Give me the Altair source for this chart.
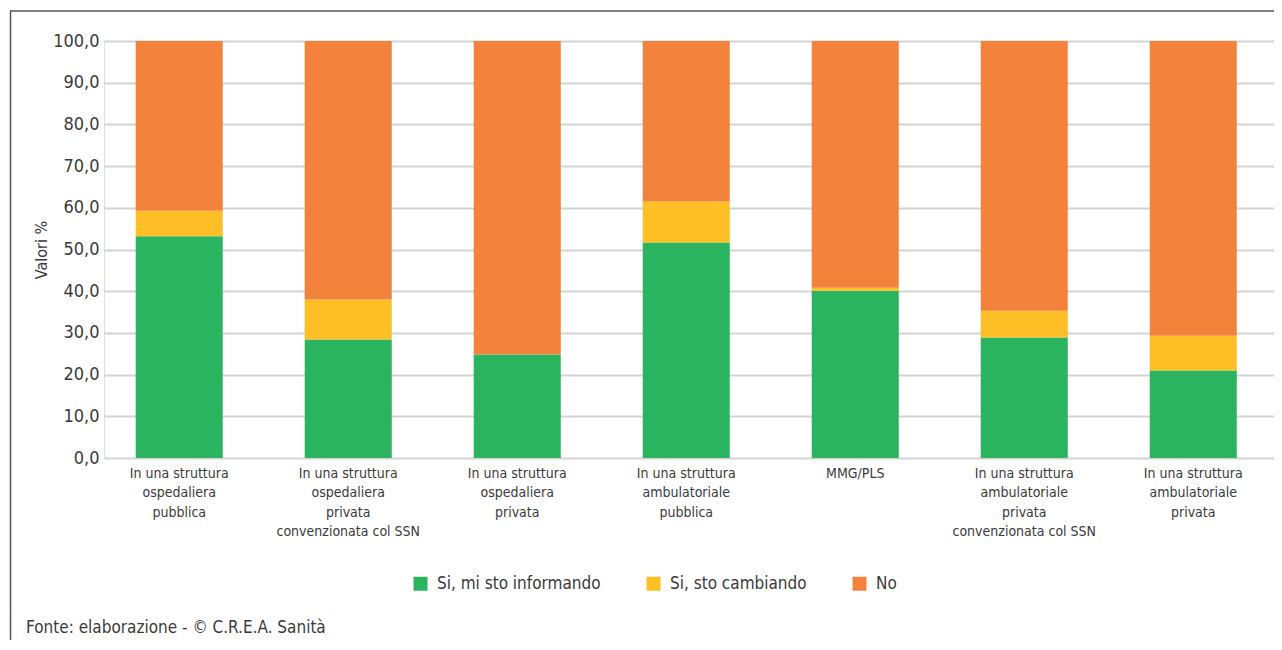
import altair as alt
import pandas as pd

CATEGORIES = [
    "In una struttura ospedaliera pubblica",
    "In una struttura ospedaliera privata convenzionata col SSN",
    "In una struttura ospedaliera privata",
    "In una struttura ambulatoriale pubblica",
    "MMG/PLS",
    "In una struttura ambulatoriale privata convenzionata col SSN",
    "In una struttura ambulatoriale privata",
]
LABEL_LINES = [
    ["In una struttura", "ospedaliera", "pubblica"],
    ["In una struttura", "ospedaliera", "privata", "convenzionata col SSN"],
    ["In una struttura", "ospedaliera", "privata"],
    ["In una struttura", "ambulatoriale", "pubblica"],
    ["MMG/PLS"],
    ["In una struttura", "ambulatoriale", "privata", "convenzionata col SSN"],
    ["In una struttura", "ambulatoriale", "privata"],
]
SERIES = ["Si, mi sto informando", "Si, sto cambiando", "No"]
COLORS = ["#2bb45f", "#fdbe26", "#f2823c"]
INFORMANDO = [53.2, 28.4, 24.8, 51.7, 40.1, 28.9, 21.0]
CAMBIANDO = [6.1, 9.6, 0.0, 9.8, 0.7, 6.4, 8.3]
NO = [40.7, 62.0, 75.2, 38.5, 59.2, 64.7, 70.7]
Y_TITLE = "Valori %"
FOOTER = "Fonte: elaborazione - © C.R.E.A. Sanità"

FONT = "Liberation Sans Narrow, DejaVu Sans Condensed, sans-serif"
TEXT_COLOR = "#3a3a3a"

rows = []
for i, c in enumerate(CATEGORIES):
    for j, (s, vals) in enumerate(zip(SERIES, [INFORMANDO, CAMBIANDO, NO])):
        rows.append({"categoria": c, "serie": s, "valore": vals[i], "ordine": j})
df = pd.DataFrame(rows)

label_map = "{" + ", ".join(
    "'" + c + "': [" + ", ".join("'" + l + "'" for l in lines) + "]"
    for c, lines in zip(CATEGORIES, LABEL_LINES)
) + "}"

W, H = 1170, 417

bars = alt.Chart(df).mark_bar().encode(
    x=alt.X(
        "categoria:N",
        sort=CATEGORIES,
        title=None,
        scale=alt.Scale(paddingInner=0.485, paddingOuter=0.204, align=0.46),
        axis=alt.Axis(
            labelExpr=label_map + "[datum.label]",
            labelAngle=0,
            labelFont=FONT,
            labelFontSize=14,
            labelColor=TEXT_COLOR,
            labelLineHeight=19.5,
            labelPadding=8,
            labelBaseline="top",
            labelLimit=0,
            ticks=False,
            domain=False,
            grid=False,
        ),
    ),
    y=alt.Y(
        "valore:Q",
        stack="zero",
        scale=alt.Scale(domain=[0, 100], nice=False),
        axis=alt.Axis(
            values=list(range(0, 101, 10)),
            labelExpr="replace(format(datum.value, '.1f'), '.', ',')",
            labelFont=FONT,
            labelFontSize=18,
            labelColor=TEXT_COLOR,
            labelPadding=5,
            ticks=False,
            domain=False,
            grid=True,
            gridColor="#d3d3d3",
            gridWidth=2,
            title=Y_TITLE,
            titleFont=FONT,
            titleFontSize=16,
            titleFontWeight="normal",
            titleColor=TEXT_COLOR,
            titleX=-63,
            titleY=H / 2,
            titleAngle=270,
            titleAlign="center",
            titleBaseline="middle",
        ),
    ),
    color=alt.Color(
        "serie:N",
        sort=SERIES,
        scale=alt.Scale(domain=SERIES, range=COLORS),
        legend=alt.Legend(
            title=None,
            orient="none",
            direction="horizontal",
            legendX=308,
            legendY=534,
            symbolType="square",
            symbolSize=196,
            symbolStrokeWidth=0,
            symbolOpacity=1,
            labelFont=FONT,
            labelFontSize=17,
            labelColor=TEXT_COLOR,
            labelOffset=8,
            labelLimit=0,
            columnPadding=44,
            padding=0,
        ),
    ),
    order=alt.Order("ordine:Q"),
)

dummy = pd.DataFrame({"a": [0]})
frame_left = alt.Chart(dummy).mark_rule(color="#555555", strokeWidth=1.5).encode(
    x=alt.value(-93.5), y=alt.value(-30), y2=alt.value(H + 182)
)
frame_top = alt.Chart(dummy).mark_rule(color="#555555", strokeWidth=1.5).encode(
    x=alt.value(-94), x2=alt.value(W), y=alt.value(-30)
)
footer = alt.Chart(pd.DataFrame({"t": [FOOTER]})).mark_text(
    font=FONT, fontSize=17, color=TEXT_COLOR, align="left", baseline="alphabetic"
).encode(text="t:N", x=alt.value(-78), y=alt.value(592))

chart = alt.layer(bars, frame_left, frame_top, footer).properties(
    width=W,
    height=H,
    autosize=alt.AutoSizeParams(type="none"),
    padding={"left": 96, "top": 33, "right": 0, "bottom": 182},
).configure_view(stroke=None).configure(background="white")

chart.save("out.html", embed_options={"renderer": "svg", "actions": False})
